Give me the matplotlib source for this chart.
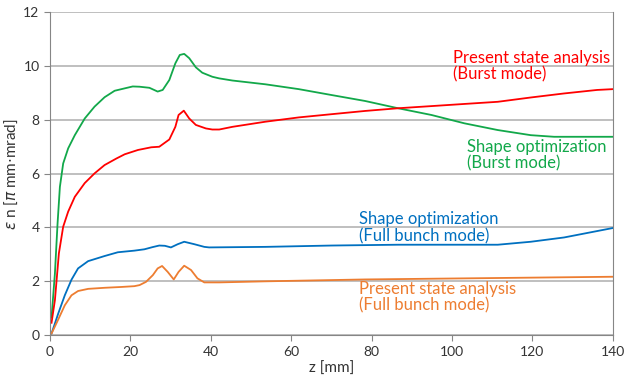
import numpy as np
import matplotlib.pyplot as plt

# Shape optimization (Burst mode)
z_green = [0.4, 1.24, 1.9, 2.48, 3.3, 4.54, 6.19, 8.66, 11.1, 13.6, 16.1, 20.6, 22.3, 24.75, 26.8, 28.05,
           29.7, 31.2, 32.3, 33.4, 34.65, 36.3, 37.9, 40.4, 42.1, 45.4, 53.6, 61.9, 70.1, 78.4, 86.6,
           94.9, 103.1, 111.4, 119.6, 125.4, 140]
y_green = [0.65, 2.29, 4.15, 5.51, 6.38, 6.94, 7.43, 8.05, 8.49, 8.84, 9.08, 9.24, 9.23, 9.19, 9.05, 9.11,
           9.48, 10.1, 10.41, 10.45, 10.29, 9.95, 9.75, 9.6, 9.54, 9.46, 9.32, 9.14, 8.92, 8.70, 8.43,
           8.18, 7.87, 7.62, 7.43, 7.37, 7.37]

# Present state analysis (Burst mode)
z_red = [0.4, 1.24, 2.23, 3.3, 4.54, 6.19, 8.66, 11.1, 13.6, 16.5, 18.6, 21.9, 25.2, 27.2, 29.7, 31.2,
         32.0, 33.3, 34.65, 36.3, 38.8, 40.4, 42.1, 45.4, 53.6, 61.9, 70.1, 78.4, 86.6, 94.9, 103.1,
         111.4, 119.6, 127.9, 136.1, 140]
y_red = [0.46, 1.30, 3.04, 4.03, 4.59, 5.14, 5.65, 6.01, 6.32, 6.56, 6.72, 6.88, 6.98, 7.0, 7.27, 7.74,
         8.18, 8.34, 8.05, 7.81, 7.68, 7.64, 7.64, 7.74, 7.93, 8.09, 8.21, 8.33, 8.43, 8.51, 8.59,
         8.67, 8.83, 8.98, 9.11, 9.14]

# Shape optimization (Full bunch mode)
z_blue = [0.4, 2.06, 3.7, 5.36, 7.0, 9.5, 13.6, 16.9, 21.0, 23.5, 25.5, 27.2, 28.6, 30.1, 31.8, 33.4,
          35.9, 38.4, 39.6, 53.6, 70.1, 86.6, 111.4, 119.6, 127.9, 140]
y_blue = [0.06, 0.8, 1.48, 2.06, 2.48, 2.75, 2.94, 3.08, 3.14, 3.19, 3.27, 3.33, 3.32, 3.26, 3.38, 3.47,
          3.38, 3.28, 3.26, 3.28, 3.33, 3.36, 3.36, 3.47, 3.63, 3.98]

# Present state analysis (Full bunch mode)
z_orange = [0.4, 2.06, 3.7, 5.36, 7.0, 9.5, 13.6, 17.7, 21.0, 22.3, 23.9, 25.6, 26.8, 27.9, 29.3, 30.8,
            32.0, 33.4, 35.1, 36.7, 38.4, 42.1, 53.6, 78.4, 103.1, 140]
y_orange = [0.06, 0.58, 1.11, 1.48, 1.64, 1.72, 1.76, 1.79, 1.82, 1.86, 1.98, 2.23, 2.48, 2.57, 2.35, 2.07,
            2.35, 2.58, 2.42, 2.11, 1.96, 1.96, 2.0, 2.07, 2.11, 2.17]

x_ticks = [0, 20, 40, 60, 80, 100, 120, 140]
y_ticks = [0, 2, 4, 6, 8, 10, 12]

plt.rcParams['font.family'] = ['Lato', 'DejaVu Sans']

fig = plt.figure(figsize=(6.24, 3.8), dpi=100)
ax = fig.add_axes([0.080, 0.118, 0.902, 0.850])

ax.plot(z_green, y_green, color="#12a84a", lw=1.3)
ax.plot(z_red, y_red, color="#ff0000", lw=1.3)
ax.plot(z_blue, y_blue, color="#0070c0", lw=1.3)
ax.plot(z_orange, y_orange, color="#ed7d31", lw=1.3)

ax.set_xlim(0, 140)
ax.set_ylim(0, 12)
ax.set_xticks(x_ticks)
ax.set_yticks(y_ticks)
ax.grid(axis="y", color="#bfbfbf", lw=1.4)
ax.set_axisbelow(True)
for s in ["left", "bottom", "right"]:
    ax.spines[s].set_color("#868686")
ax.spines["top"].set_visible(False)
ax.tick_params(colors="#333333", labelsize=10, length=4, color="#868686")

ax.set_xlabel("z [mm]", fontsize=11, color="#333333", labelpad=3)
ax.set_ylabel(r"$\varepsilon$ n [$\pi$ mm$\cdot$mrad]", fontsize=11, color="#333333", labelpad=2)

fs = 12
ax.text(100.2, 10.0, "Present state analysis\n(Burst mode)", color="#ff0000", fontsize=fs,
        linespacing=1.05, va="center")
ax.text(103.7, 6.69, "Shape optimization\n(Burst mode)", color="#12a84a", fontsize=fs,
        linespacing=1.05, va="center")
ax.text(77.0, 3.99, "Shape optimization\n(Full bunch mode)", color="#0070c0", fontsize=fs,
        linespacing=1.05, va="center")
ax.text(77.0, 1.41, "Present state analysis\n(Full bunch mode)", color="#ed7d31", fontsize=fs,
        linespacing=1.05, va="center")

fig.savefig("out.png", dpi=100)
